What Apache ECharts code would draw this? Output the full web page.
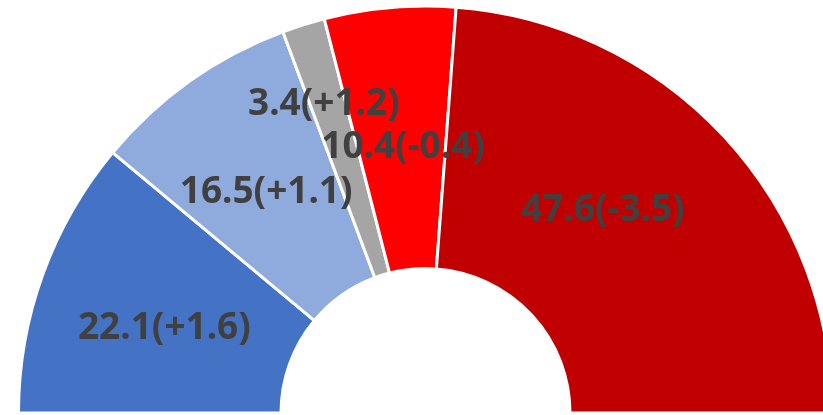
<!DOCTYPE html>
<html>
<head>
<meta charset="utf-8">
<script src="https://cdn.jsdelivr.net/npm/echarts@6/dist/echarts.min.js"></script>
<style>
html,body{margin:0;padding:0;background:#fff;}
#main{width:823px;height:415px;}
</style>
</head>
<body>
<div id="main"></div>
<script>
// 半圆环图
var shares = [22.1, 16.5, 3.4, 10.4, 47.6];
var changes = ['+1.6', '+1.1', '+1.2', '-0.4', '-3.5'];
var colors = ['#4472C4', '#8FAADC', '#A5A5A5', '#FF0000', '#C00000'];

// label nudges (px), same order as shares
var labelShift = [[1, 10], [2, 7], [-18, -43], [2, 12], [-27, -13]];

var dom_pie = document.getElementById("main");
var myChart_pie = echarts.init(dom_pie);

var pieData = shares.map(function (v, i) {
    return {
        value: v,
        name: v + '(' + changes[i] + ')',
        itemStyle: {color: colors[i]}
    };
});

var option_pie = {
    animation: false,
    series: [{
        type: 'pie',
        center: [425.5, 413],
        radius: [144.5, 407],
        startAngle: 180,
        endAngle: 0,
        clockwise: true,
        avoidLabelOverlap: false,
        itemStyle: {borderColor: '#fff', borderWidth: 3},
        label: {
            show: true,
            position: 'inside',
            formatter: '{b}',
            color: '#404040',
            fontSize: 37,
            fontWeight: 'bold',
            fontFamily: 'Noto Sans'
        },
        labelLine: {show: false},
        labelLayout: function (params) {
            var s = labelShift[params.dataIndex];
            return {dx: s[0], dy: s[1]};
        },
        data: pieData
    }]
};
myChart_pie.setOption(option_pie, true);
</script>
</body>
</html>
